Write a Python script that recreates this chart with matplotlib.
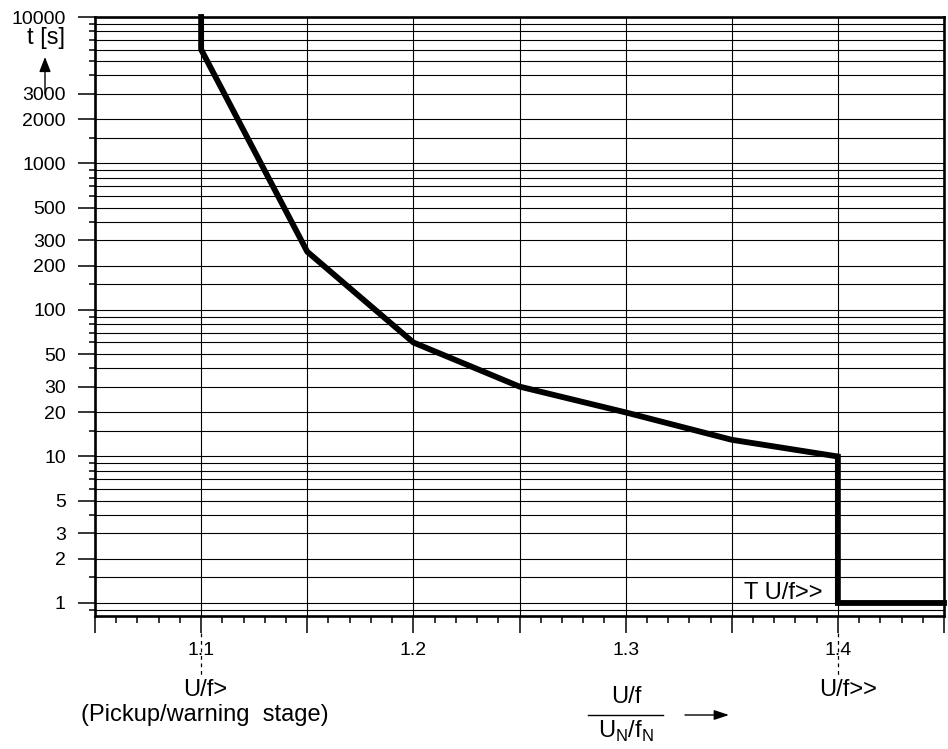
import matplotlib
matplotlib.use("Agg")
import matplotlib.pyplot as plt
from matplotlib.lines import Line2D
from matplotlib.patches import FancyArrowPatch
import matplotlib.transforms as mtransforms

plt.rcParams['font.family'] = ['Liberation Sans', 'DejaVu Sans']

# curve of the U/f tripping characteristic
ratio = [1.10, 1.10, 1.15, 1.20, 1.25, 1.30, 1.35, 1.40, 1.40, 1.45]
t_sec = [10000, 6000, 250, 60, 30, 20, 13, 10, 1, 1]

# y axis ticks
y_labeled = [1, 2, 3, 5, 10, 20, 30, 50, 100, 200, 300, 500, 1000, 2000, 3000, 10000]
y_unlabeled = [0.9, 1.5, 4, 6, 7, 8, 9,
               15, 40, 60, 70, 80, 90,
               150, 400, 600, 700, 800, 900,
               1500, 4000, 5000, 6000, 7000, 8000, 9000]

# x axis ticks
x_major = [1.05, 1.10, 1.15, 1.20, 1.25, 1.30, 1.35, 1.40, 1.45]
x_major_labels = ['', '1.1', '', '1.2', '', '1.3', '', '1.4', '']
x_minor = [1.05 + 0.01 * i for i in range(41)]

W, H = 948, 749


def fx(px):
    return px / W


def fy(py):
    return 1 - py / H


fig = plt.figure(figsize=(9.48, 7.49), dpi=100)
ax = fig.add_axes([fx(95), fy(616), fx(944) - fx(95), fy(17) - fy(616)])

ax.set_yscale('log')
ax.set_xlim(1.05, 1.45)
ax.set_ylim(0.815, 10000)

ax.set_yticks(y_labeled)
ax.set_yticklabels([str(v) for v in y_labeled])
ax.set_yticks(y_unlabeled, minor=True)
ax.yaxis.set_minor_formatter(plt.NullFormatter())

ax.set_xticks(x_major)
ax.set_xticklabels(x_major_labels)
ax.set_xticks(x_minor, minor=True)

ax.tick_params(axis='y', which='major', direction='out', length=12, width=1.1,
               labelsize=14, pad=9)
ax.tick_params(axis='y', which='minor', direction='out', length=4, width=1.1)
ax.tick_params(axis='x', which='major', direction='out', length=12, width=1.1,
               labelsize=14, pad=7)
ax.tick_params(axis='x', which='minor', direction='out', length=5, width=1.1)

ax.grid(True, axis='y', which='both', color='black', linewidth=0.8)
ax.grid(True, axis='x', which='major', color='black', linewidth=0.8)
ax.set_axisbelow(True)

for sp in ax.spines.values():
    sp.set_linewidth(1.9)

ax.plot(ratio, t_sec, color='black', linewidth=4.2, solid_joinstyle='miter',
        zorder=5, clip_on=False)

# dashed markers under 1.1 and 1.4
trans = mtransforms.blended_transform_factory(ax.transData, ax.transAxes)
for xv in (1.10, 1.40):
    ax.plot([xv, xv], [-0.028, -0.102], transform=trans, color='black',
            linewidth=0.9, linestyle=(0, (3, 3)), clip_on=False)

# texts
fig.text(fx(205), fy(690), 'U/f>', ha='center', va='center', fontsize=17)
fig.text(fx(205), fy(715), '(Pickup/warning  stage)', ha='center', va='center', fontsize=17)
fig.text(fx(848), fy(690), 'U/f>>', ha='center', va='center', fontsize=17)
fig.text(fx(822), fy(599), 'T U/f>>', ha='right', va='baseline', fontsize=17)

# y axis label and arrow
fig.text(fx(46), fy(38), 't [s]', ha='center', va='center', fontsize=17)
fig.add_artist(FancyArrowPatch(
    (fx(45), fy(94)), (fx(45), fy(57)), transform=fig.transFigure,
    arrowstyle='-|>,head_length=9,head_width=3.5', color='black', linewidth=1.0,
    shrinkA=0, shrinkB=0))

# x axis label as a fraction
fig.text(fx(626), fy(697), 'U/f', ha='center', va='center', fontsize=17)
fig.add_artist(Line2D([fx(588), fx(663)], [fy(715), fy(715)],
                      transform=fig.transFigure, color='black', linewidth=1.0))
fig.text(fx(626), fy(731), r'U$_\mathregular{N}$/f$_\mathregular{N}$',
         ha='center', va='center', fontsize=17)
fig.add_artist(FancyArrowPatch(
    (fx(685), fy(715)), (fx(729), fy(715)), transform=fig.transFigure,
    arrowstyle='-|>,head_length=9,head_width=3', color='black', linewidth=1.0,
    shrinkA=0, shrinkB=0))

fig.savefig('out.png', dpi=100)
